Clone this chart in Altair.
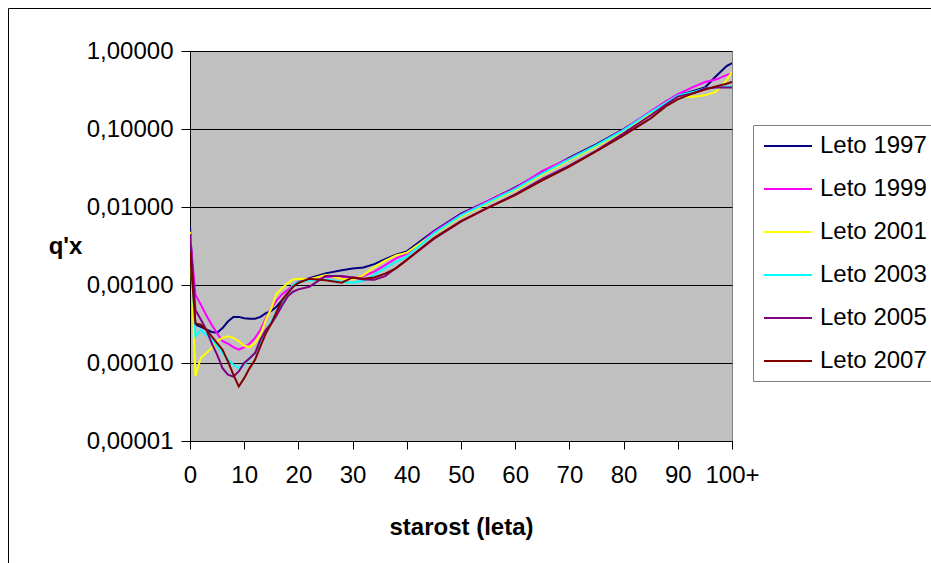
import altair as alt
import pandas as pd

ages = [0, 1, 2, 3, 4, 5, 6, 7, 8, 9, 10, 11, 12, 13, 14, 15, 16, 17, 18, 19, 20,
        22, 25, 28, 30, 32, 34, 36, 38, 40, 45, 50, 55, 60, 65, 70, 75, 80,
        85, 88, 90, 93, 95, 97, 99, 100]

q1997 = [0.0056, 3.1e-4, 2.9e-4, 2.7e-4, 2.5e-4, 2.45e-4, 2.8e-4, 3.4e-4, 3.9e-4, 3.9e-4,
         3.75e-4, 3.7e-4, 3.7e-4, 3.9e-4, 4.35e-4, 4.65e-4, 5.3e-4, 6.4e-4, 7.8e-4, 9.5e-4,
         1.07e-3, 1.22e-3, 1.41e-3, 1.55e-3, 1.63e-3, 1.68e-3, 1.85e-3, 2.15e-3, 2.45e-3, 2.7e-3,
         4.9e-3, 8.2e-3, 1.2e-2, 1.78e-2, 2.75e-2, 4.3e-2, 6.4e-2, 0.100,
         0.165, 0.23, 0.27, 0.31, 0.34, 0.47, 0.64, 0.70]
q1999 = [0.0045, 7.5e-4, 5.6e-4, 4.1e-4, 3.1e-4, 2.4e-4, 1.9e-4, 1.77e-4, 1.6e-4, 1.48e-4,
         1.6e-4, 1.77e-4, 2.1e-4, 2.67e-4, 3.75e-4, 5.0e-4, 6.4e-4, 7.6e-4, 8.6e-4, 1.0e-3,
         1.1e-3, 1.2e-3, 1.28e-3, 1.25e-3, 1.22e-3, 1.3e-3, 1.48e-3, 1.8e-3, 2.2e-3, 2.5e-3,
         4.8e-3, 8.0e-3, 1.2e-2, 1.75e-2, 2.9e-2, 4.2e-2, 6.2e-2, 0.098,
         0.17, 0.23, 0.28, 0.35, 0.40, 0.43, 0.49, 0.52]
q2001 = [0.0048, 6.8e-5, 1.16e-4, 1.34e-4, 1.55e-4, 1.9e-4, 2.1e-4, 2.2e-4, 2.1e-4, 1.9e-4,
         1.66e-4, 1.6e-4, 1.8e-4, 2.3e-4, 3.6e-4, 5.0e-4, 7.8e-4, 9.1e-4, 1.05e-3, 1.18e-3,
         1.2e-3, 1.18e-3, 1.34e-3, 1.2e-3, 1.18e-3, 1.34e-3, 1.7e-3, 2.05e-3, 2.4e-3, 2.6e-3,
         4.5e-3, 7.6e-3, 1.12e-2, 1.65e-2, 2.6e-2, 4.0e-2, 6.0e-2, 0.095,
         0.16, 0.22, 0.26, 0.26, 0.27, 0.30, 0.42, 0.54]
q2003 = [0.0045, 2.2e-4, 2.65e-4, 2.3e-4, 2.0e-4, 1.64e-4, 1.34e-4, 1.1e-4, 9.5e-5, 8.6e-5,
         9.5e-5, 1.15e-4, 1.34e-4, 1.8e-4, 2.5e-4, 3.4e-4, 4.6e-4, 5.8e-4, 7.8e-4, 1.0e-3,
         1.1e-3, 1.15e-3, 1.18e-3, 1.1e-3, 1.07e-3, 1.13e-3, 1.35e-3, 1.65e-3, 2.0e-3, 2.3e-3,
         4.6e-3, 7.8e-3, 1.15e-2, 1.7e-2, 2.7e-2, 4.1e-2, 6.2e-2, 0.097,
         0.165, 0.22, 0.27, 0.30, 0.33, 0.34, 0.35, 0.35]
q2005 = [0.0045, 4.8e-4, 3.6e-4, 2.67e-4, 1.8e-4, 1.28e-4, 8.6e-5, 7.1e-5, 6.7e-5, 7.8e-5,
         1.0e-4, 1.15e-4, 1.34e-4, 2.0e-4, 2.67e-4, 3.2e-4, 4.1e-4, 5.5e-4, 7.1e-4, 8.2e-4,
         8.8e-4, 9.5e-4, 1.3e-3, 1.3e-3, 1.25e-3, 1.18e-3, 1.17e-3, 1.3e-3, 1.65e-3, 2.1e-3,
         3.9e-3, 6.5e-3, 9.8e-3, 1.45e-2, 2.3e-2, 3.4e-2, 5.3e-2, 0.088,
         0.15, 0.21, 0.26, 0.29, 0.33, 0.34, 0.34, 0.34]
q2007 = [0.0027, 3.2e-4, 3.1e-4, 2.67e-4, 2.2e-4, 1.8e-4, 1.48e-4, 1.05e-4, 7.1e-5, 5.0e-5,
         6.4e-5, 8.6e-5, 1.1e-4, 1.64e-4, 2.4e-4, 3.2e-4, 4.6e-4, 6.4e-4, 7.8e-4, 9.5e-4,
         1.07e-3, 1.2e-3, 1.15e-3, 1.07e-3, 1.25e-3, 1.2e-3, 1.25e-3, 1.4e-3, 1.63e-3, 2.1e-3,
         4.0e-3, 6.6e-3, 9.8e-3, 1.42e-2, 2.2e-2, 3.3e-2, 5.2e-2, 0.083,
         0.137, 0.20, 0.24, 0.29, 0.32, 0.35, 0.38, 0.40]

series_names = ["Leto 1997", "Leto 1999", "Leto 2001", "Leto 2003", "Leto 2005", "Leto 2007"]
series_values = [q1997, q1999, q2001, q2003, q2005, q2007]
colors = ["#000080", "#FF00FF", "#FFFF00", "#00FFFF", "#800080", "#800000"]

x_ticks = [0, 10, 20, 30, 40, 50, 60, 70, 80, 90, 100]
y_ticks = [0.00001, 0.0001, 0.001, 0.01, 0.1, 1.0]

rows = []
for name, vals in zip(series_names, series_values):
    for a, v in zip(ages, vals):
        rows.append({"age": a, "q": v, "series": name})
df = pd.DataFrame(rows)

FONT = "Liberation Sans"

lines = alt.Chart(df).mark_line(strokeWidth=2, clip=True).encode(
    x=alt.X("age:Q",
            scale=alt.Scale(domain=[0, 100], nice=False, zero=False),
            axis=alt.Axis(values=x_ticks,
                          labelExpr="datum.value == 100 ? '100+' : datum.label",
                          labelOverlap=False, labelFlush=False,
                          title="starost (leta)", grid=False,
                          tickSize=8, labelPadding=14,
                          titleY=86, titleBaseline="middle")),
    y=alt.Y("q:Q",
            scale=alt.Scale(type="log", domain=[0.00001, 1]),
            axis=alt.Axis(values=y_ticks,
                          labelExpr="replace(format(datum.value, '.5f'), '.', ',')",
                          labelOverlap=False, labelFlush=False,
                          title="q'x", grid=True, gridColor="black", gridWidth=1,
                          tickSize=9, labelPadding=8,
                          titleAngle=0, titleX=-125, titleY=195,
                          titleAlign="center", titleBaseline="middle")),
    color=alt.Color("series:N",
                    scale=alt.Scale(domain=series_names, range=colors),
                    legend=alt.Legend(title=None, orient="none",
                                      legendX=563, legendY=74,
                                      symbolType="M-2,0H2", symbolSize=576,
                                      symbolStrokeWidth=2, symbolOffset=14,
                                      labelOffset=19, rowPadding=18,
                                      padding=8, fillColor="white",
                                      strokeColor="#808080",
                                      labelFontSize=24, labelFont=FONT,
                                      labelColor="black", labelLimit=300)),
)

frame_df = pd.DataFrame({"k": [0]})
frame_left = alt.Chart(frame_df).mark_rule(color="black", strokeWidth=1, clip=False).encode(
    x=alt.value(-181.5), y=alt.value(-42.5), y2=alt.value(560)
)
frame_top = alt.Chart(frame_df).mark_rule(color="black", strokeWidth=1, clip=False).encode(
    x=alt.value(-181.5), x2=alt.value(760), y=alt.value(-42.5)
)

chart = alt.layer(frame_left, frame_top, lines).properties(
    width=542, height=390,
    autosize=alt.AutoSizeParams(type="none"),
    padding={"left": 190, "top": 51, "right": 199, "bottom": 122},
    background="white",
).configure_view(
    fill="#C0C0C0", stroke="#808080", strokeWidth=1
).configure_axis(
    domainColor="black", tickColor="black", labelColor="black", titleColor="black",
    labelFont=FONT, titleFont=FONT, labelFontSize=24, titleFontSize=24,
    titleFontWeight="bold", domainWidth=1, tickWidth=1
)

chart.save("out.html", embed_options={"renderer": "svg", "actions": False})
